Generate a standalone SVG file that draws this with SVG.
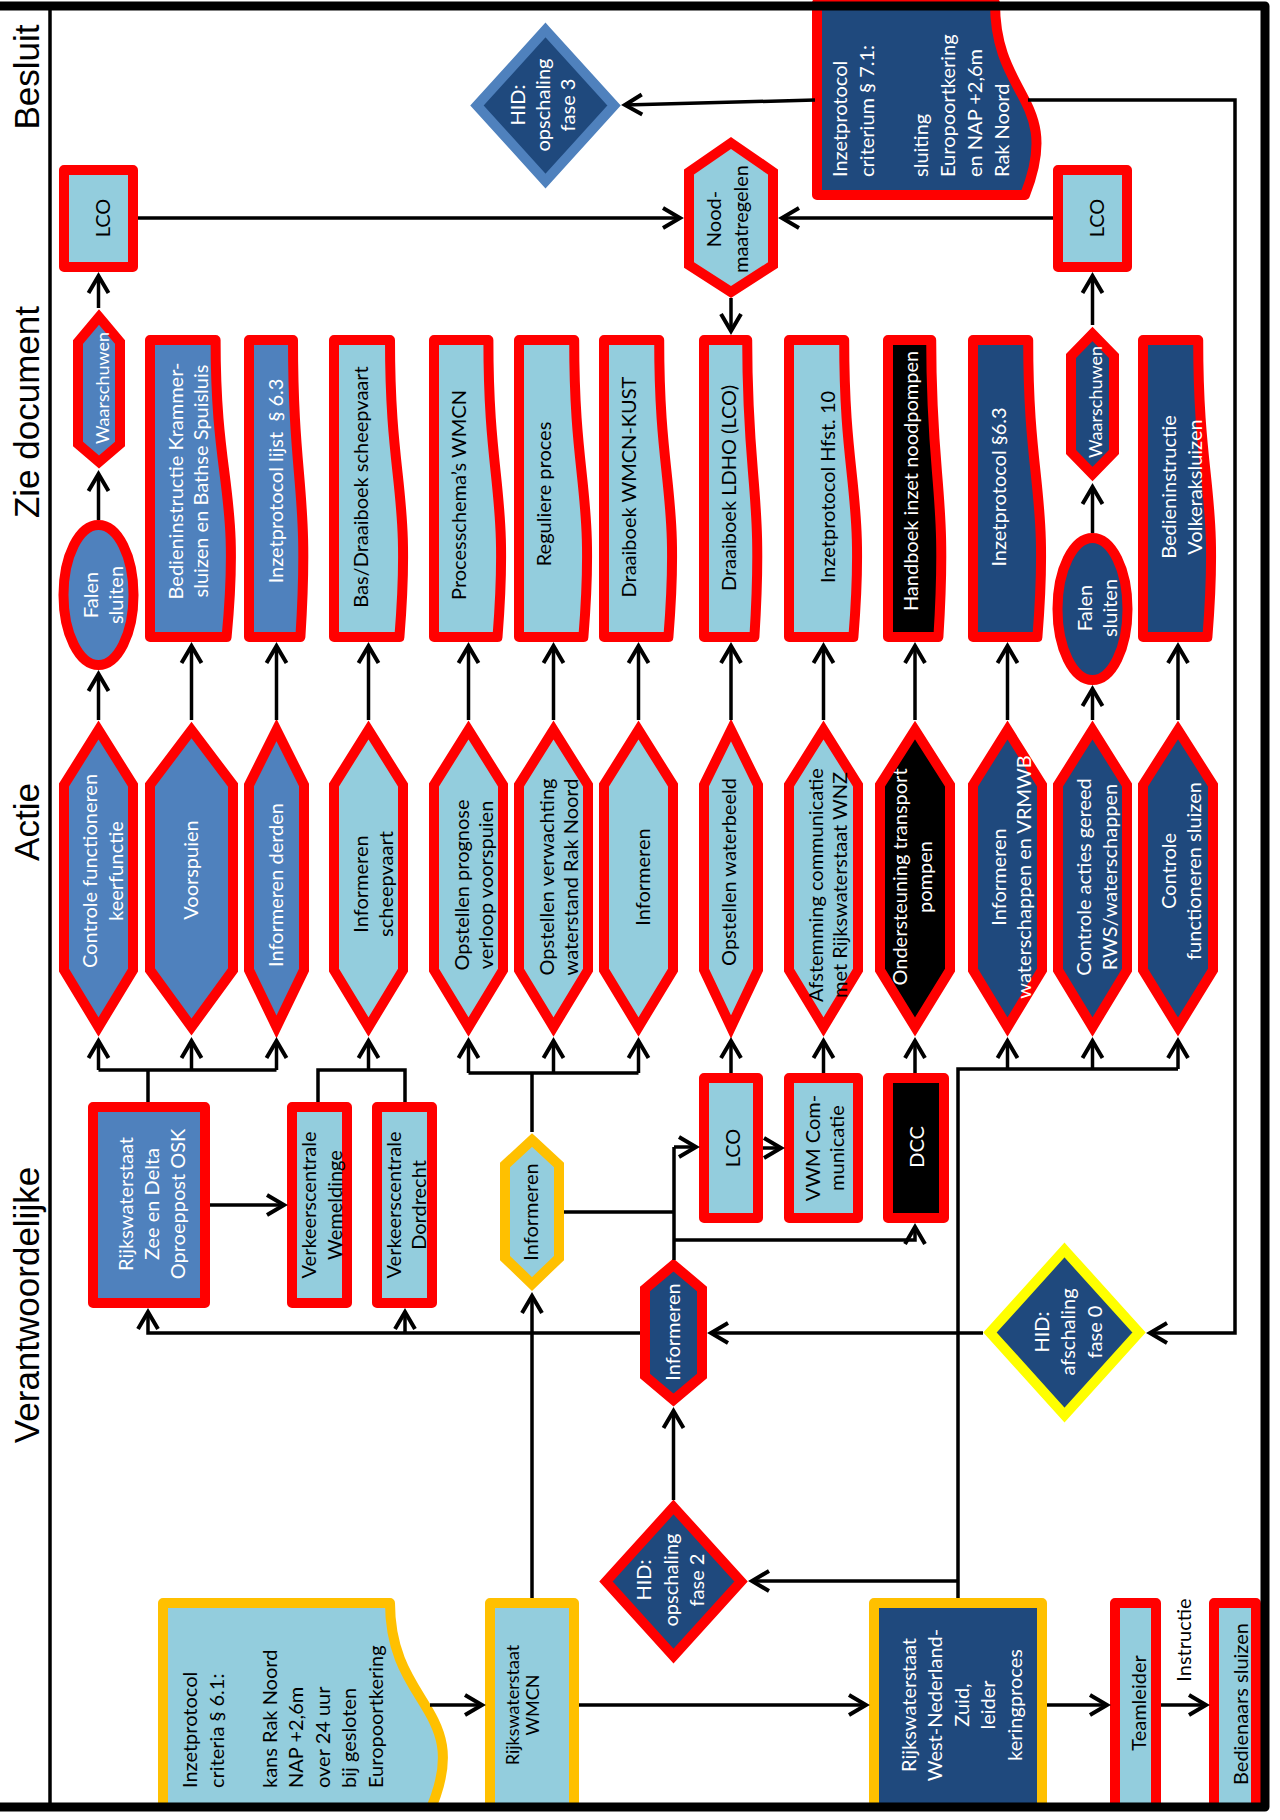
<svg xmlns="http://www.w3.org/2000/svg" width="1280" height="1820" viewBox="0 0 1280 1820">
<defs>
<style>
.r{stroke:#FF0000;stroke-width:10;stroke-linejoin:miter}
.o{stroke:#FFC000;stroke-width:10;stroke-linejoin:miter}
.yl{stroke:#FFFF00;stroke-width:10;stroke-linejoin:miter}
.bl{stroke:#4F81BD;stroke-width:10;stroke-linejoin:miter}
.bx{stroke-linejoin:round}
.fm{fill:#4F81BD}.fl{fill:#93CDDD}.fd{fill:#1F497D}.fk{fill:#000000}
text{font-family:Lato,'Open Sans','Liberation Sans',sans-serif;font-size:20px;text-anchor:middle;dominant-baseline:central}
.w{fill:#FFFFFF}.k{fill:#000000}
.lt{text-anchor:start;dominant-baseline:alphabetic}
.s18{font-size:18px}
.lane{font-family:'Liberation Sans',Arial,sans-serif;font-size:35px;fill:#000000}
.c{fill:none;stroke:#000000;stroke-width:3.5}
.a{marker-end:url(#ah)}
</style>
<marker id="ah" markerUnits="userSpaceOnUse" markerWidth="30" markerHeight="30" viewBox="-25 -15 30 30" refX="0" refY="0" orient="auto">
<path d="M-17,-10 L0,0 L-17,10" fill="none" stroke="#000000" stroke-width="4"/>
</marker>
</defs>
<rect x="0" y="0" width="1280" height="1820" fill="#FFFFFF"/>

<g id="lanes">
<line x1="50" y1="6" x2="50" y2="1807" stroke="#000000" stroke-width="3.5"/>
<text class="lane" transform="translate(0,77) rotate(-90)"><tspan x="0" y="25.5">Besluit</tspan></text>
<text class="lane" transform="translate(0,412) rotate(-90)"><tspan x="0" y="25.5">Zie document</tspan></text>
<text class="lane" transform="translate(0,822) rotate(-90)"><tspan x="0" y="25.5">Actie</tspan></text>
<text class="lane" transform="translate(0,1305) rotate(-90)"><tspan x="0" y="25.5">Verantwoordelijke</tspan></text>
</g>

<!-- Besluit lane -->
<g id="hid3">
<polygon class="bl fd" points="545.5,30 614,105.5 545.5,181 477,105.5"/>
<text class="w" transform="translate(0,105) rotate(-90)"><tspan x="0" y="517">HID:</tspan><tspan x="0" y="542">opschaling</tspan><tspan x="0" y="567">fase 3</tspan></text>
</g>
<g id="doc71">
<path class="r fd bx" d="M817,3H995C995,99 1063,99 1025,195H817Z"/>
<text class="w lt" transform="translate(0,177) rotate(-90)"><tspan x="0" y="847">Inzetprotocol</tspan><tspan x="0" y="874">criterium § 7.1:</tspan><tspan x="0" y="928">sluiting</tspan><tspan x="0" y="955">Europoortkering</tspan><tspan x="0" y="982">en NAP +2,6m</tspan><tspan x="0" y="1009">Rak Noord</tspan></text>
</g>
<g id="lco1">
<rect class="r fl bx" x="64" y="170" width="69" height="97"/>
<text class="k" transform="translate(0,218) rotate(-90)"><tspan x="0" y="101.5">LCO</tspan></text>
</g>
<g id="lco12">
<rect class="r fl bx" x="1058" y="170" width="69" height="97"/>
<text class="k" transform="translate(0,218) rotate(-90)"><tspan x="0" y="1095.5">LCO</tspan></text>
</g>
<g id="nood">
<polygon class="r fl" points="731,143 773,172 773,265 731,292 689,265 689,172"/>
<text class="k" transform="translate(0,219) rotate(-90)"><tspan x="0" y="712.5">Nood-</tspan><tspan x="0" y="739.5">maatregelen</tspan></text>
</g>

<!-- Zie document lane -->
<g id="waar1">
<polygon class="r fm" points="99,317 120,342 120,444 99,462 78,444 78,342"/>
<text class="w s18" transform="translate(0,388) rotate(-90)"><tspan x="0" y="101.5">Waarschuwen</tspan></text>
</g>
<g id="falen1">
<ellipse class="r fm" cx="98.5" cy="595" rx="35" ry="70"/>
<text class="w" transform="translate(0,595) rotate(-90)"><tspan x="0" y="89.5">Falen</tspan><tspan x="0" y="114.5">sluiten</tspan></text>
</g>
<g id="doc2">
<path class="r fm bx" d="M150,340H215.6C215.6,488.5 240.8,488.5 226.6,637H150Z"/>
<text class="w" transform="translate(0,481) rotate(-90)"><tspan x="0" y="174.5">Bedieninstructie Krammer-</tspan><tspan x="0" y="199.5">sluizen en Bathse Spuisluis</tspan></text>
</g>
<g id="doc3">
<path class="r fm bx" d="M249,340H293C293,488.5 309.9,488.5 300.4,637H249Z"/>
<text class="w" xml:space="preserve" transform="translate(0,481) rotate(-90)"><tspan x="0" y="274.5">Inzetprotocol lijst  § 6.3</tspan></text>
</g>
<g id="doc4">
<path class="r fl bx" d="M334,340H390C390,488.5 411.5,488.5 399.4,637H334Z"/>
<text class="k" transform="translate(0,487) rotate(-90)"><tspan x="0" y="359.5">Bas/Draaiboek scheepvaart</tspan></text>
</g>
<g id="doc5">
<path class="r fl bx" d="M434,340H488.4C488.4,488.5 509.3,488.5 497.5,637H434Z"/>
<text class="k" transform="translate(0,495) rotate(-90)"><tspan x="0" y="457.5">Processchema’s WMCN</tspan></text>
</g>
<g id="doc6">
<path class="r fl bx" d="M519,340H574.2C574.2,488.5 595.4,488.5 583.4,637H519Z"/>
<text class="k" transform="translate(0,494) rotate(-90)"><tspan x="0" y="542.5">Reguliere proces</tspan></text>
</g>
<g id="doc7">
<path class="r fl bx" d="M604,340H659.2C659.2,488.5 680.4,488.5 668.4,637H604Z"/>
<text class="k" transform="translate(0,487) rotate(-90)"><tspan x="0" y="628">Draaiboek WMCN-KUST</tspan></text>
</g>
<g id="doc8">
<path class="r fl bx" d="M704,340H747.2C747.2,488.5 763.8,488.5 754.4,637H704Z"/>
<text class="k" transform="translate(0,488) rotate(-90)"><tspan x="0" y="727.5">Draaiboek LDHO (LCO)</tspan></text>
</g>
<g id="doc9">
<path class="r fl bx" d="M789,340H844.2C844.2,488.5 865.4,488.5 853.4,637H789Z"/>
<text class="k" transform="translate(0,487) rotate(-90)"><tspan x="0" y="827">Inzetprotocol Hfst. 10</tspan></text>
</g>
<g id="doc10">
<path class="r fk bx" d="M888,340H931.2C931.2,488.5 947.8,488.5 938.4,637H888Z"/>
<text class="w" transform="translate(0,481) rotate(-90)"><tspan x="0" y="910">Handboek inzet noodpompen</tspan></text>
</g>
<g id="doc11">
<path class="r fd bx" d="M973,340H1028.2C1028.2,488.5 1049.4,488.5 1037.4,637H973Z"/>
<text class="w" transform="translate(0,487) rotate(-90)"><tspan x="0" y="997.5">Inzetprotocol §6.3</tspan></text>
</g>
<g id="waar12">
<polygon class="r fd" points="1092.5,334 1114,356 1114,452 1092.5,474 1071,452 1071,356"/>
<text class="w s18" transform="translate(0,402) rotate(-90)"><tspan x="0" y="1095">Waarschuwen</tspan></text>
</g>
<g id="falen12">
<ellipse class="r fd" cx="1092.5" cy="609" rx="35" ry="71"/>
<text class="w" transform="translate(0,608) rotate(-90)"><tspan x="0" y="1083.5">Falen</tspan><tspan x="0" y="1108.5">sluiten</tspan></text>
</g>
<g id="doc13">
<path class="r fd bx" d="M1143,340H1198.2C1198.2,488.5 1219.4,488.5 1207.4,637H1143Z"/>
<text class="w" transform="translate(0,487) rotate(-90)"><tspan x="0" y="1167.5">Bedieninstructie</tspan><tspan x="0" y="1193.5">Volkeraksluizen</tspan></text>
</g>

<!-- Actie lane -->
<g id="act1">
<polygon class="r fm" points="98.5,730 133,785 133,970 98.5,1027 64,970 64,785"/>
<text class="w" transform="translate(0,871) rotate(-90)"><tspan x="0" y="89">Controle functioneren</tspan><tspan x="0" y="115">keerfunctie</tspan></text>
</g>
<g id="act2">
<polygon class="r fm" points="191.5,730 233,785 233,970 191.5,1027 150,970 150,785"/>
<text class="w" transform="translate(0,870) rotate(-90)"><tspan x="0" y="190">Voorspuien</tspan></text>
</g>
<g id="act3">
<polygon class="r fm" points="276.5,730 304,785 304,970 276.5,1027 249,970 249,785"/>
<text class="w" transform="translate(0,885) rotate(-90)"><tspan x="0" y="274.5">Informeren derden</tspan></text>
</g>
<g id="act4">
<polygon class="r fl" points="368.5,730 403,785 403,970 368.5,1027 334,970 334,785"/>
<text class="k" transform="translate(0,884) rotate(-90)"><tspan x="0" y="359.5">Informeren</tspan><tspan x="0" y="384.5">scheepvaart</tspan></text>
</g>
<g id="act5">
<polygon class="r fl" points="468.5,730 503,785 503,970 468.5,1027 434,970 434,785"/>
<text class="k" transform="translate(0,885) rotate(-90)"><tspan x="0" y="460.5">Opstellen prognose</tspan><tspan x="0" y="484.5">verloop voorspuien</tspan></text>
</g>
<g id="act6">
<polygon class="r fl" points="553.5,730 588,785 588,970 553.5,1027 519,970 519,785"/>
<text class="k" transform="translate(0,877) rotate(-90)"><tspan x="0" y="545.5">Opstellen verwachting</tspan><tspan x="0" y="569.5">waterstand Rak Noord</tspan></text>
</g>
<g id="act7">
<polygon class="r fl" points="638.5,730 673,785 673,970 638.5,1027 604,970 604,785"/>
<text class="k" transform="translate(0,877) rotate(-90)"><tspan x="0" y="642">Informeren</tspan></text>
</g>
<g id="act8">
<polygon class="r fl" points="731,730 758,785 758,970 731,1027 704,970 704,785"/>
<text class="k" transform="translate(0,872) rotate(-90)"><tspan x="0" y="727.5">Opstellen waterbeeld</tspan></text>
</g>
<g id="act9">
<polygon class="r fl" points="823.5,730 858,785 858,970 823.5,1027 789,970 789,785"/>
<text class="k" transform="translate(0,885) rotate(-90)"><tspan x="0" y="815">Afstemming communicatie</tspan><tspan x="0" y="839">met Rijkswaterstaat WNZ</tspan></text>
</g>
<g id="act10">
<polygon class="r fk" points="915,730 950,785 950,970 915,1027 880,970 880,785"/>
<text class="w" transform="translate(0,877) rotate(-90)"><tspan x="0" y="898.5">Ondersteuning transport</tspan><tspan x="0" y="923.5">pompen</tspan></text>
</g>
<g id="act11">
<polygon class="r fd" points="1007.5,730 1042,785 1042,970 1007.5,1027 973,970 973,785"/>
<text class="w" transform="translate(0,877) rotate(-90)"><tspan x="0" y="997.5">Informeren</tspan><tspan x="0" y="1023">waterschappen en VRMWB</tspan></text>
</g>
<g id="act12">
<polygon class="r fd" points="1092.5,730 1127,785 1127,970 1092.5,1027 1058,970 1058,785"/>
<text class="w" transform="translate(0,877) rotate(-90)"><tspan x="0" y="1083">Controle acties gereed</tspan><tspan x="0" y="1108.5">RWS/waterschappen</tspan></text>
</g>
<g id="act13">
<polygon class="r fd" points="1178,730 1213,785 1213,970 1178,1027 1143,970 1143,785"/>
<text class="w" transform="translate(0,871) rotate(-90)"><tspan x="0" y="1167.5">Controle</tspan><tspan x="0" y="1193">functioneren sluizen</tspan></text>
</g>

<!-- Verantwoordelijke lane -->
<g id="rwszee">
<rect class="r fm bx" x="93" y="1107" width="112" height="196"/>
<text class="w" transform="translate(0,1204) rotate(-90)"><tspan x="0" y="125">Rijkswaterstaat</tspan><tspan x="0" y="151">Zee en Delta</tspan><tspan x="0" y="177">Oproeppost OSK</tspan></text>
</g>
<g id="vcwem">
<rect class="r fl bx" x="292" y="1107" width="55" height="196"/>
<text class="k" transform="translate(0,1205) rotate(-90)"><tspan x="0" y="308">Verkeerscentrale</tspan><tspan x="0" y="334">Wemeldinge</tspan></text>
</g>
<g id="vcdor">
<rect class="r fl bx" x="377" y="1107" width="55" height="196"/>
<text class="k" transform="translate(0,1205) rotate(-90)"><tspan x="0" y="393">Verkeerscentrale</tspan><tspan x="0" y="418">Dordrecht</tspan></text>
</g>
<g id="infor">
<polygon class="o fl" points="532,1140 559,1165 559,1258 532,1284 505,1258 505,1165"/>
<text class="k" transform="translate(0,1212) rotate(-90)"><tspan x="0" y="530">Informeren</tspan></text>
</g>
<g id="lcom">
<rect class="r fl bx" x="704" y="1078" width="54" height="140"/>
<text class="k" transform="translate(0,1148) rotate(-90)"><tspan x="0" y="732">LCO</tspan></text>
</g>
<g id="vwm">
<rect class="r fl bx" x="789" y="1078" width="69" height="140"/>
<text class="k" transform="translate(0,1148) rotate(-90)"><tspan x="0" y="812">VWM Com-</tspan><tspan x="0" y="836">municatie</tspan></text>
</g>
<g id="dcc">
<rect class="r fk bx" x="888" y="1078" width="56" height="140"/>
<text class="w" transform="translate(0,1147) rotate(-90)"><tspan x="0" y="916">DCC</tspan></text>
</g>
<g id="infd">
<polygon class="r fd" points="673.5,1265 702,1289 702,1376 673.5,1400 645,1376 645,1289"/>
<text class="w" transform="translate(0,1332) rotate(-90)"><tspan x="0" y="672">Informeren</tspan></text>
</g>
<g id="hid0">
<polygon class="yl fd" points="1064.5,1250 1139,1332.5 1064.5,1415 990,1332.5"/>
<text class="w" transform="translate(0,1332) rotate(-90)"><tspan x="0" y="1040.5">HID:</tspan><tspan x="0" y="1067">afschaling</tspan><tspan x="0" y="1093.5">fase 0</tspan></text>
</g>
<g id="hid2">
<polygon class="r fd" points="673.5,1507 741,1581.5 673.5,1656 606,1581.5"/>
<text class="w" transform="translate(0,1580) rotate(-90)"><tspan x="0" y="643">HID:</tspan><tspan x="0" y="669.5">opschaling</tspan><tspan x="0" y="696">fase 2</tspan></text>
</g>
<g id="doc61">
<path class="o fl bx" d="M163,1603H390C390,1709 477,1709 428,1815H163Z"/>
<text class="k lt" transform="translate(0,1788) rotate(-90)"><tspan x="0" y="197">Inzetprotocol</tspan><tspan x="0" y="223.5">criteria § 6.1:</tspan><tspan x="0" y="276.5">kans Rak Noord</tspan><tspan x="0" y="303">NAP +2,6m</tspan><tspan x="0" y="329.5">over 24 uur</tspan><tspan x="0" y="356">bij gesloten</tspan><tspan x="0" y="382.5">Europoortkering</tspan></text>
</g>
<g id="wmcn">
<rect class="o fl bx" x="490" y="1603" width="84" height="207"/>
<text class="k s18" transform="translate(0,1705) rotate(-90)"><tspan x="0" y="512">Rijkswaterstaat</tspan><tspan x="0" y="532">WMCN</tspan></text>
</g>
<g id="wnz">
<rect class="o fd bx" x="874" y="1603" width="168" height="207"/>
<text class="w" transform="translate(0,1705) rotate(-90)"><tspan x="0" y="907.5">Rijkswaterstaat</tspan><tspan x="0" y="934">West-Nederland-</tspan><tspan x="0" y="960.5">Zuid,</tspan><tspan x="0" y="987">leider</tspan><tspan x="0" y="1013.5">keringproces</tspan></text>
</g>
<g id="teamleider">
<rect class="r fl bx" x="1115" y="1603" width="41" height="207"/>
<text class="k" transform="translate(0,1703) rotate(-90)"><tspan x="0" y="1138">Teamleider</tspan></text>
</g>
<g id="bedienaars">
<rect class="r fl bx" x="1214" y="1603" width="42" height="207"/>
<text class="k" transform="translate(0,1704) rotate(-90)"><tspan x="0" y="1240">Bedienaars sluizen</tspan></text>
</g>

<g id="connectors" class="c">
<path class="a" d="M98.5,720V674"/>
<path class="a" d="M98.5,520V474"/>
<path class="a" d="M98.5,308V276"/>
<path class="a" d="M191.5,720V646"/>
<path class="a" d="M276.5,720V646"/>
<path class="a" d="M368.5,720V646"/>
<path class="a" d="M468.5,720V646"/>
<path class="a" d="M553.5,720V646"/>
<path class="a" d="M638.5,720V646"/>
<path class="a" d="M731,720V646"/>
<path class="a" d="M823.5,720V646"/>
<path class="a" d="M915,720V646"/>
<path class="a" d="M1007.5,720V646"/>
<path class="a" d="M1178,720V646"/>
<path class="a" d="M1092.5,720V689"/>
<path class="a" d="M1092.5,533V487"/>
<path class="a" d="M1092.5,325V276"/>
<path class="a" d="M138,218H680"/>
<path class="a" d="M1053,218H782"/>
<path class="a" d="M731,298V331"/>
<path class="a" d="M815,100L625,105"/>
<path class="a" d="M1028,100H1235V1333H1150"/>
<path d="M148,1102V1070M98.5,1070H276.5"/>
<path class="a" d="M98.5,1070V1041"/>
<path class="a" d="M191.5,1070V1041"/>
<path class="a" d="M276.5,1070V1041"/>
<path class="a" d="M210,1205H284"/>
<path d="M318,1102V1070H405V1102"/>
<path class="a" d="M368.5,1070V1041"/>
<path d="M532,1132V1073M468.5,1073H638.5"/>
<path class="a" d="M468.5,1073V1041"/>
<path class="a" d="M553.5,1073V1041"/>
<path class="a" d="M638.5,1073V1041"/>
<path d="M564,1212H674M674,1147V1260"/>
<path class="a" d="M674,1147H696"/>
<path class="a" d="M674,1240H915V1227"/>
<path class="a" d="M763,1148H781"/>
<path class="a" d="M731,1073V1041"/>
<path class="a" d="M823.5,1073V1041"/>
<path class="a" d="M915,1073V1041"/>
<path class="a" d="M640,1333H148V1312"/>
<path class="a" d="M405,1333V1312"/>
<path class="a" d="M532,1598V1296"/>
<path class="a" d="M983,1333H711"/>
<path class="a" d="M673.5,1500V1411"/>
<path d="M958,1598V1069H1178"/>
<path class="a" d="M1007.5,1069V1041"/>
<path class="a" d="M1092.5,1069V1041"/>
<path class="a" d="M1178,1069V1041"/>
<path class="a" d="M958,1581H752"/>
<path class="a" d="M430,1705H482"/>
<path class="a" d="M579,1705H866"/>
<path class="a" d="M1047,1705H1107"/>
<path class="a" d="M1161,1705H1206"/>
</g>
<text class="k" transform="translate(0,1640) rotate(-90)"><tspan x="0" y="1183">Instructie</tspan></text>

<g id="frame">
<rect x="0" y="1811" width="1280" height="9" fill="#FFFFFF"/>
<rect x="1269" y="0" width="11" height="1820" fill="#FFFFFF"/>
<path d="M-10,6H1265V1807H-10" fill="none" stroke="#000000" stroke-width="9" stroke-linejoin="round"/>
</g>
</svg>
